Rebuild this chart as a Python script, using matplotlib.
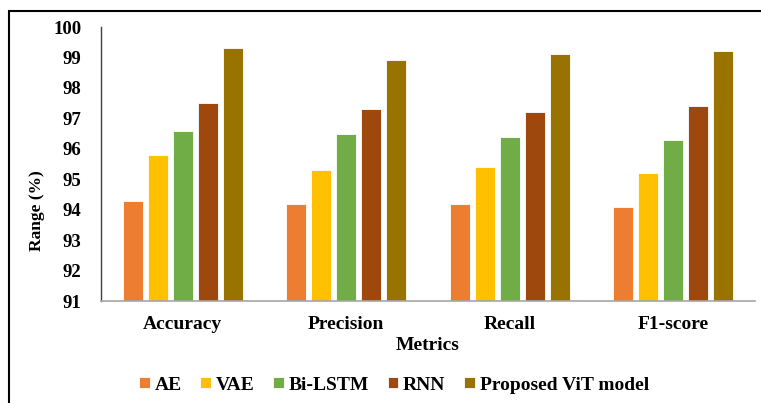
import matplotlib.pyplot as plt
import numpy as np
from matplotlib.patches import Rectangle

metrics = ["Accuracy", "Precision", "Recall", "F1-score"]
models = ["AE", "VAE", "Bi-LSTM", "RNN", "Proposed ViT model"]
ae = [94.3, 94.2, 94.2, 94.1]
vae = [95.8, 95.3, 95.4, 95.2]
bilstm = [96.6, 96.5, 96.4, 96.3]
rnn = [97.5, 97.3, 97.2, 97.4]
vit = [99.3, 98.9, 99.1, 99.2]
colors = ["#ED7D31", "#FFC000", "#70AD47", "#9E480E", "#997300"]

plt.rcParams["font.family"] = ["Liberation Serif", "DejaVu Serif"]
plt.rcParams["font.weight"] = "bold"

W, H = 761, 403
fig = plt.figure(figsize=(W / 100, H / 100), dpi=100)
ax = fig.add_axes([101 / W, 1 - 301 / H, 654 / W, 274 / H])

x = np.arange(len(metrics))
stride = 0.153
width = 0.125
for i, (name, vals) in enumerate(zip(models, [ae, vae, bilstm, rnn, vit])):
    ax.bar(x + (i - 2) * stride, np.array(vals) - 91, width, bottom=91,
           color=colors[i], edgecolor="white", linewidth=0.6, label=name)

ax.set_xlim(-0.5, 3.5)
ax.set_ylim(91, 100)
ax.set_yticks(range(91, 101))
ax.set_xticks(x)
ax.set_xticklabels(metrics)
ax.tick_params(axis="y", length=0, labelsize=13.5, pad=14)
ax.tick_params(axis="x", length=0, labelsize=14, pad=11)
for lbl in ax.get_xticklabels() + ax.get_yticklabels():
    lbl.set_fontweight("bold")

for side in ("top", "right"):
    ax.spines[side].set_visible(False)
ax.spines["left"].set_color("#404040")
ax.spines["left"].set_linewidth(1.0)
ax.spines["bottom"].set_color("#A6A6A6")
ax.spines["bottom"].set_linewidth(1.2)

fig.text(428 / W, 1 - 345 / H, "Metrics", ha="center", va="center",
         fontsize=14, fontweight="bold")
fig.text(37 / W, 1 - 211 / H, "Range (%)", ha="center", va="center",
         rotation=90, fontsize=12.5, fontweight="bold")

fig.legend(loc="center", bbox_to_anchor=(394 / W, 1 - 385 / H), ncol=5,
           frameon=False, prop={"size": 14, "weight": "bold"},
           handlelength=0.55, handleheight=0.55, handletextpad=0.25,
           columnspacing=0.95)

# outer frame around the chart, running past the right and bottom edges
fig.patches.append(Rectangle((8.5 / W, -0.05), 1.2, 1 - 10.5 / H + 0.05,
                             transform=fig.transFigure, fill=False,
                             edgecolor="black", linewidth=1.5))

fig.savefig("out.png", dpi=100)
